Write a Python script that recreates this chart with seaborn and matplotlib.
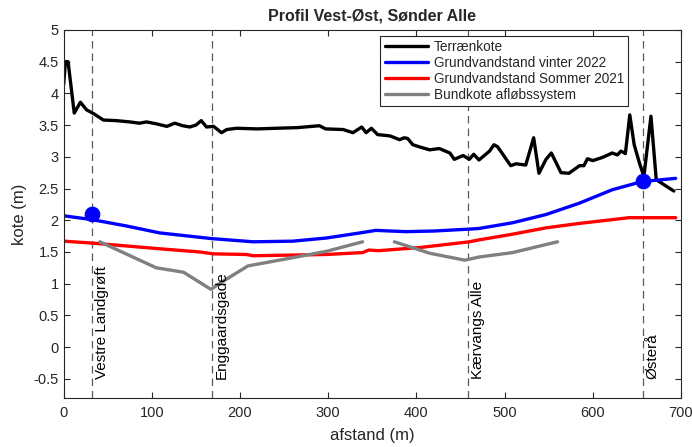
import numpy as np
import pandas as pd
import matplotlib
matplotlib.use("Agg")
import matplotlib.pyplot as plt
import seaborn as sns

# Terrænkote
terrain_x = [0, 2, 5, 12, 19, 26, 34, 45, 60, 75, 86, 94, 105, 117, 126, 135, 143, 150, 156,
             162, 170, 179, 185, 196, 220, 241, 265, 290, 297, 317, 328, 338, 343, 349, 356,
             370, 381, 386, 390, 396, 405, 415, 426, 438, 443, 453, 460, 465, 471, 483, 488,
             492, 498, 507, 513, 524, 533, 539, 547, 553, 558, 564, 573, 577, 585, 590, 594,
             600, 611, 619, 622, 628, 632, 637, 642, 647, 653, 658, 666, 672, 683, 692]
terrain_y = [4.14, 4.50, 4.50, 3.69, 3.86, 3.74, 3.68, 3.58, 3.57, 3.55, 3.53, 3.55, 3.52,
             3.48, 3.53, 3.49, 3.47, 3.50, 3.57, 3.47, 3.48, 3.38, 3.43, 3.45, 3.44, 3.45,
             3.46, 3.49, 3.44, 3.43, 3.38, 3.47, 3.38, 3.45, 3.35, 3.33, 3.27, 3.30, 3.29,
             3.19, 3.15, 3.11, 3.13, 3.06, 2.96, 3.02, 2.96, 3.04, 2.95, 3.09, 3.19, 3.16,
             3.04, 2.86, 2.89, 2.87, 3.30, 2.74, 2.96, 3.06, 2.92, 2.75, 2.74, 2.78, 2.86,
             2.86, 2.97, 2.94, 2.99, 3.04, 3.06, 3.03, 3.09, 3.05, 3.66, 3.19, 2.90, 2.69,
             3.64, 2.64, 2.54, 2.46]

# Grundvandstand vinter 2022
winter_x = [0, 32, 71, 109, 168, 215, 260, 298, 336, 354, 388, 420, 460, 471, 509, 547,
            585, 622, 656, 694]
winter_y = [2.07, 2.01, 1.91, 1.80, 1.71, 1.66, 1.67, 1.72, 1.80, 1.84, 1.82, 1.83, 1.86,
            1.87, 1.96, 2.09, 2.27, 2.48, 2.61, 2.66]

# Grundvandstand Sommer 2021
summer_x = [0, 32, 109, 154, 170, 207, 215, 298, 339, 346, 357, 404, 460, 471, 509, 547,
            585, 641, 694]
summer_y = [1.67, 1.64, 1.55, 1.50, 1.47, 1.46, 1.44, 1.46, 1.49, 1.53, 1.52, 1.57, 1.66,
            1.69, 1.78, 1.88, 1.95, 2.04, 2.04]

# Bundkote afløbssystem (two stretches)
pipe1_x = [41, 105, 136, 167, 181, 209, 260, 298, 339]
pipe1_y = [1.66, 1.25, 1.18, 0.91, 1.04, 1.28, 1.41, 1.51, 1.66]
pipe2_x = [375, 415, 455, 471, 509, 560]
pipe2_y = [1.66, 1.48, 1.37, 1.42, 1.49, 1.66]

# street markers
street_x = [32, 168, 459, 657]
street_names = ["Vestre Landgrøft", "Enggaardsgade", "Kærvangs Alle", "Østerå"]
point_x = [32, 657]
point_y = [2.10, 2.62]

sns.set_style("ticks")
plt.rcParams['font.family'] = ['Liberation Sans', 'DejaVu Sans']

fig, ax = plt.subplots(figsize=(6.92, 4.47), dpi=100)
fig.subplots_adjust(left=0.092, right=0.984, top=0.933, bottom=0.11)

for sx, name in zip(street_x, street_names):
    ax.axvline(sx, color="0.35", linestyle=(0, (6, 4)), linewidth=0.9, zorder=1)
    ax.text(sx + 3, -0.5, name, rotation=90, ha="left", va="bottom", fontsize=11,
            color="black")

sns.lineplot(x=terrain_x, y=terrain_y, color="black", linewidth=2.4, label="Terrænkote",
             ax=ax, sort=False)
sns.lineplot(x=winter_x, y=winter_y, color="#0000ff", linewidth=2.4,
             label="Grundvandstand vinter 2022", ax=ax, sort=False)
sns.lineplot(x=summer_x, y=summer_y, color="#ff0000", linewidth=2.4,
             label="Grundvandstand Sommer 2021", ax=ax, sort=False)
sns.lineplot(x=pipe1_x, y=pipe1_y, color="#808080", linewidth=2.4,
             label="Bundkote afløbssystem", ax=ax, sort=False)
sns.lineplot(x=pipe2_x, y=pipe2_y, color="#808080", linewidth=2.4, ax=ax, sort=False)
sns.scatterplot(x=point_x, y=point_y, color="#0000ff", s=110, edgecolor="#0000ff",
                zorder=5, ax=ax, legend=False)

ax.set_xlim(0, 700)
ax.set_ylim(-0.8, 5)
ax.set_xticks(np.arange(0, 701, 100))
ax.set_yticks(np.arange(-0.5, 5.01, 0.5))
ax.yaxis.set_major_formatter(matplotlib.ticker.FormatStrFormatter('%g'))
ax.tick_params(direction="in", top=True, right=True, length=4, width=0.8,
               labelsize=10.5, colors="0.15")
ax.tick_params(axis="x", pad=6)
for sp in ax.spines.values():
    sp.set_visible(True)
    sp.set_color("0.15")
    sp.set_linewidth(0.8)

ax.set_xlabel("afstand (m)", fontsize=12, color="0.15", labelpad=6)
ax.set_ylabel("kote (m)", fontsize=12, color="0.15", labelpad=5)
ax.set_title("Profil Vest-Øst, Sønder Alle", fontsize=11.5, fontweight="bold", pad=7)

leg = ax.legend(loc="upper right", bbox_to_anchor=(0.914, 0.984), fontsize=9.8,
                frameon=True, fancybox=False, framealpha=1, edgecolor="0.15",
                handlelength=3.2, borderpad=0.3, labelspacing=0.15, handletextpad=0.4,
                borderaxespad=0)
leg.get_frame().set_linewidth(0.8)

plt.savefig("out.png", dpi=100)
